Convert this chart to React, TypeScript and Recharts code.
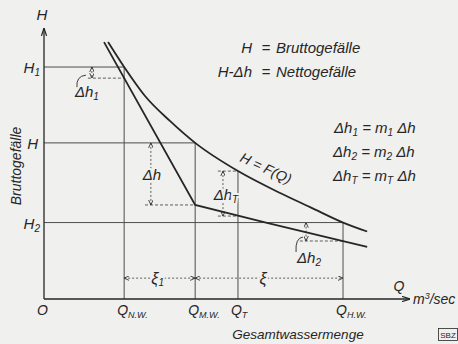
import React from 'react'
import { ComposedChart, Line, XAxis, YAxis, ReferenceLine, ReferenceDot } from 'recharts'

const INK = '#262626'
const GUIDE = '#4d4d4d'
const PAPER = '#f0f0ee'
const FONT = '"Liberation Sans", Arial, sans-serif'

// x: Gesamtwassermenge Q, y: Bruttogefälle H (beide in % der Achsenlänge)
const qTicks = [0, 21.9, 41.3, 53.0, 81.7]
const qTickText = ['O', 'Q', 'Q', 'Q', 'Q']
const qTickSub = ['', 'N.W.', 'M.W.', 'T', 'H.W.']

const hTicks = [28.2, 57.6, 85.6]
const hTickSub = ['2', '', '1']

// H = F(Q), Bruttogefälle
const grossQ = [17.5, 21.9, 27.6, 34.4, 41.3, 53.0, 64.5, 72.7, 81.7, 88.3]
const grossH = [94.8, 85.6, 74.9, 65.7, 57.6, 47.2, 39.1, 33.9, 28.2, 24.9]

// H - Δh, Nettogefälle
const netQ = [16.4, 41.3, 61.2, 81.7, 88.3]
const netH = [94.8, 34.7, 28.0, 21.4, 19.2]

// Δh-Pfeile: Lage, oberes / unteres Ende, Anfang und Ende der gestrichelten Hilfslinie
const dimQ = [13.1, 29.2, 48.9, 71.6]
const dimTop = [85.6, 57.6, 47.2, 28.2]
const dimBottom = [81.5, 34.7, 30.6, 21.4]
const dimFrom = [12.0, 27.6, 47.5, 69.9]
const dimTo = [21.9, 41.3, 53.0, 81.7]
const dimSub = ['1', '', 'T', '2']

// ξ-Strecken
const xiLevel = 7.7
const xiFrom = [21.9, 41.3]
const xiTo = [41.3, 81.7]
const xiSub = ['1', '']

const grossCurve = grossQ.map((q, i) => ({ q, h: grossH[i] }))
const netCurve = netQ.map((q, i) => ({ q, h: netH[i] }))

const halo = { stroke: PAPER, strokeWidth: 4, paintOrder: 'stroke' as const }

const DeltaText = ({ x, y, sub, anchor = 'start', bg = false }: any) => (
  <text x={x} y={y} textAnchor={anchor} fontSize={15} fontStyle="italic" fill={INK}
    fontFamily={FONT} style={bg ? halo : undefined}>
    Δh{sub && <tspan dy={3} fontSize={10}>{sub}</tspan>}
  </text>
)

const QTick = (props: any) => {
  const { x, y, index } = props
  return (
    <text x={x - 7} y={y + 16} fontSize={14} fontStyle="italic" fill={INK} fontFamily={FONT}>
      {qTickText[index]}
      {qTickSub[index] && <tspan dy={3} fontSize={9}>{qTickSub[index]}</tspan>}
    </text>
  )
}

const HTick = (props: any) => {
  const { x, y, index } = props
  const sub = hTickSub[index]
  return (
    <text x={x - (sub ? 4 : 6)} y={y + 6} textAnchor="end" fontSize={15} fontStyle="italic" fill={INK} fontFamily={FONT}>
      H{sub && <tspan dy={3} fontSize={10}>{sub}</tspan>}
    </text>
  )
}

const dimShape = (i: number) => (p: any) => {
  const { x1, y1, x2, y2 } = p
  const top = Math.min(y1, y2)
  const bot = Math.max(y1, y2)
  const mid = (top + bot) / 2
  let label = null
  if (i === 0) {
    label = (
      <g>
        <path d={`M${x1 - 15},${bot + 9} Q${x1 - 16},${bot - 2} ${x1 - 6},${bot - 3}`} fill="none" stroke={INK} strokeWidth={0.9} />
        <DeltaText x={x1 - 17} y={bot + 19} sub={dimSub[i]} />
      </g>
    )
  } else if (i === 3) {
    label = (
      <g>
        <path d={`M${x1 - 10},${bot + 11} Q${x1 - 11},${bot - 3} ${x1 - 3},${bot - 4}`} fill="none" stroke={INK} strokeWidth={0.9} />
        <DeltaText x={x1 - 9} y={bot + 22} sub={dimSub[i]} />
      </g>
    )
  } else {
    label = <DeltaText x={x1 + (i === 1 ? 1 : 3)} y={mid + 6} sub={dimSub[i]} anchor="middle" bg />
  }
  return (
    <g>
      <line x1={x1} y1={top} x2={x2} y2={bot} stroke={GUIDE} strokeWidth={0.9} strokeDasharray="2 2"
        markerStart="url(#tip)" markerEnd="url(#tip)" />
      {label}
    </g>
  )
}

const xiShape = (i: number) => (p: any) => {
  const { x1, y1, x2, y2 } = p
  const mid = (x1 + x2) / 2
  return (
    <g>
      <line x1={x1} y1={y1} x2={x2} y2={y2} stroke={GUIDE} strokeWidth={0.9} strokeDasharray="2 2"
        markerStart="url(#tip)" markerEnd="url(#tip)" />
      <text x={mid + (i === 0 ? -2 : -6)} y={y1 + 6} textAnchor="middle" fontSize={16} fontStyle="italic"
        fill={INK} fontFamily={FONT} style={halo}>
        ξ{xiSub[i] && <tspan dy={2} fontSize={10}>{xiSub[i]}</tspan>}
      </text>
    </g>
  )
}

const axisShape = (p: any) => (
  <line x1={p.x1} y1={p.y1} x2={p.x2} y2={p.y2} stroke={INK} strokeWidth={1.3} markerEnd="url(#axisTip)" />
)

const App = () => {
  return (
    <div style={{ position: 'absolute', left: 0, top: 0, width: 458, height: 344, background: PAPER }}>
      <svg width={0} height={0} style={{ position: 'absolute' }}>
        <defs>
          <marker id="tip" viewBox="0 0 6 6" refX={6} refY={3} markerWidth={5} markerHeight={5}
            markerUnits="userSpaceOnUse" orient="auto-start-reverse">
            <path d="M0,0.3 L6,3 L0,5.7" fill="none" stroke={INK} strokeWidth={1} />
          </marker>
          <marker id="axisTip" viewBox="0 0 8 6" refX={8} refY={3} markerWidth={8} markerHeight={6}
            markerUnits="userSpaceOnUse" orient="auto-start-reverse">
            <path d="M0,0.4 L8,3 L0,5.6" fill="none" stroke={INK} strokeWidth={1.2} />
          </marker>
        </defs>
      </svg>
      <ComposedChart width={458} height={344} margin={{ top: 28, right: 48, left: 0, bottom: 0 }}>
        <XAxis type="number" dataKey="q" domain={[0, 100]} ticks={qTicks} interval={0} height={45}
          axisLine={false} tickLine={false} tickSize={0} tickMargin={0} tick={QTick} allowDataOverflow />
        <YAxis type="number" domain={[0, 100]} ticks={hTicks} interval={0} width={44}
          axisLine={false} tickLine={false} tickSize={0} tickMargin={0} tick={HTick} allowDataOverflow />

        {/* Hilfslinien */}
        <ReferenceLine segment={[{ x: 0, y: hTicks[2] }, { x: qTicks[1], y: hTicks[2] }]} stroke={GUIDE} strokeWidth={1} />
        <ReferenceLine segment={[{ x: 0, y: hTicks[1] }, { x: qTicks[2], y: hTicks[1] }]} stroke={GUIDE} strokeWidth={1} />
        <ReferenceLine segment={[{ x: 0, y: hTicks[0] }, { x: qTicks[4], y: hTicks[0] }]} stroke={GUIDE} strokeWidth={1} />
        <ReferenceLine segment={[{ x: qTicks[1], y: 0 }, { x: qTicks[1], y: hTicks[2] }]} stroke={GUIDE} strokeWidth={1} />
        <ReferenceLine segment={[{ x: qTicks[2], y: 0 }, { x: qTicks[2], y: hTicks[1] }]} stroke={GUIDE} strokeWidth={1} />
        <ReferenceLine segment={[{ x: qTicks[3], y: 0 }, { x: qTicks[3], y: dimTop[2] }]} stroke={GUIDE} strokeWidth={1} />
        <ReferenceLine segment={[{ x: qTicks[4], y: 0 }, { x: qTicks[4], y: hTicks[0] }]} stroke={GUIDE} strokeWidth={1} />

        {/* gestrichelte Hilfslinien für Δh */}
        {dimQ.map((q, i) => (
          <ReferenceLine key={`g${i}`} segment={[{ x: dimFrom[i], y: dimBottom[i] }, { x: dimTo[i], y: dimBottom[i] }]}
            stroke={GUIDE} strokeWidth={0.9} strokeDasharray="3 2" />
        ))}
        <ReferenceLine segment={[{ x: dimFrom[2], y: dimTop[2] }, { x: dimTo[2], y: dimTop[2] }]}
          stroke={GUIDE} strokeWidth={0.9} strokeDasharray="3 2" />

        {dimQ.map((q, i) => (
          <ReferenceLine key={`d${i}`} segment={[{ x: q, y: dimTop[i] }, { x: q, y: dimBottom[i] }]} shape={dimShape(i)} />
        ))}
        {xiFrom.map((q, i) => (
          <ReferenceLine key={`x${i}`} segment={[{ x: q, y: xiLevel }, { x: xiTo[i], y: xiLevel }]} shape={xiShape(i)} />
        ))}

        {/* Achsen */}
        <ReferenceLine segment={[{ x: 0, y: 0 }, { x: 0, y: 100 }]} shape={axisShape} />
        <ReferenceLine segment={[{ x: 0, y: 0 }, { x: 100, y: 0 }]} shape={axisShape} />

        <Line data={grossCurve} dataKey="h" type="monotone" stroke={INK} strokeWidth={1.8} dot={false} isAnimationActive={false} />
        <Line data={netCurve} dataKey="h" type="linear" stroke={INK} strokeWidth={1.8} dot={false} isAnimationActive={false} />

        <ReferenceDot x={grossQ[5]} y={grossH[5]} r={0}
          shape={(p: any) => (
            <text transform={`translate(${p.cx + 1},${p.cy - 10}) rotate(25)`} fontSize={14} fontStyle="italic"
              fill={INK} fontFamily={FONT}>H = F(Q)</text>
          )} />
      </ComposedChart>

      <svg width={458} height={344} style={{ position: 'absolute', left: 0, top: 0, pointerEvents: 'none' }}
        fontFamily={FONT} fontStyle="italic" fill={INK}>
        <text x={42} y={20} textAnchor="middle" fontSize={15}>H</text>
        <text transform="translate(21,166) rotate(-90)" textAnchor="middle" fontSize={14}>Bruttogefälle</text>
        <text x={399} y={291} textAnchor="middle" fontSize={14}>Q</text>
        <text x={413} y={304} fontSize={14}>m<tspan dy={-5} fontSize={9}>3</tspan><tspan dy={5}>/sec</tspan></text>
        <text x={298} y={339} textAnchor="middle" fontSize={13.5}>Gesamtwassermenge</text>
        <rect x={438.5} y={328.5} width={19} height={12} fill="none" stroke={INK} strokeWidth={0.8} />
        <text x={448} y={338} textAnchor="middle" fontSize={8} fontStyle="normal">SBZ</text>

        <text x={252} y={53} textAnchor="end" fontSize={15}>H</text>
        <text x={266} y={53} textAnchor="middle" fontSize={15}>=</text>
        <text x={276} y={53} fontSize={15}>Bruttogefälle</text>
        <text x={252} y={77} textAnchor="end" fontSize={15}>H-Δh</text>
        <text x={266} y={77} textAnchor="middle" fontSize={15}>=</text>
        <text x={276} y={77} fontSize={15}>Nettogefälle</text>

        <text x={334} y={133} fontSize={15}>
          Δh<tspan dy={3} fontSize={10}>1</tspan><tspan dy={-3}> = m</tspan><tspan dy={3} fontSize={10}>1</tspan><tspan dy={-3}> Δh</tspan>
        </text>
        <text x={333} y={157} fontSize={15}>
          Δh<tspan dy={3} fontSize={10}>2</tspan><tspan dy={-3}> = m</tspan><tspan dy={3} fontSize={10}>2</tspan><tspan dy={-3}> Δh</tspan>
        </text>
        <text x={333} y={181} fontSize={15}>
          Δh<tspan dy={3} fontSize={10}>T</tspan><tspan dy={-3}> = m</tspan><tspan dy={3} fontSize={10}>T</tspan><tspan dy={-3}> Δh</tspan>
        </text>
      </svg>
    </div>
  )
}

export default App
